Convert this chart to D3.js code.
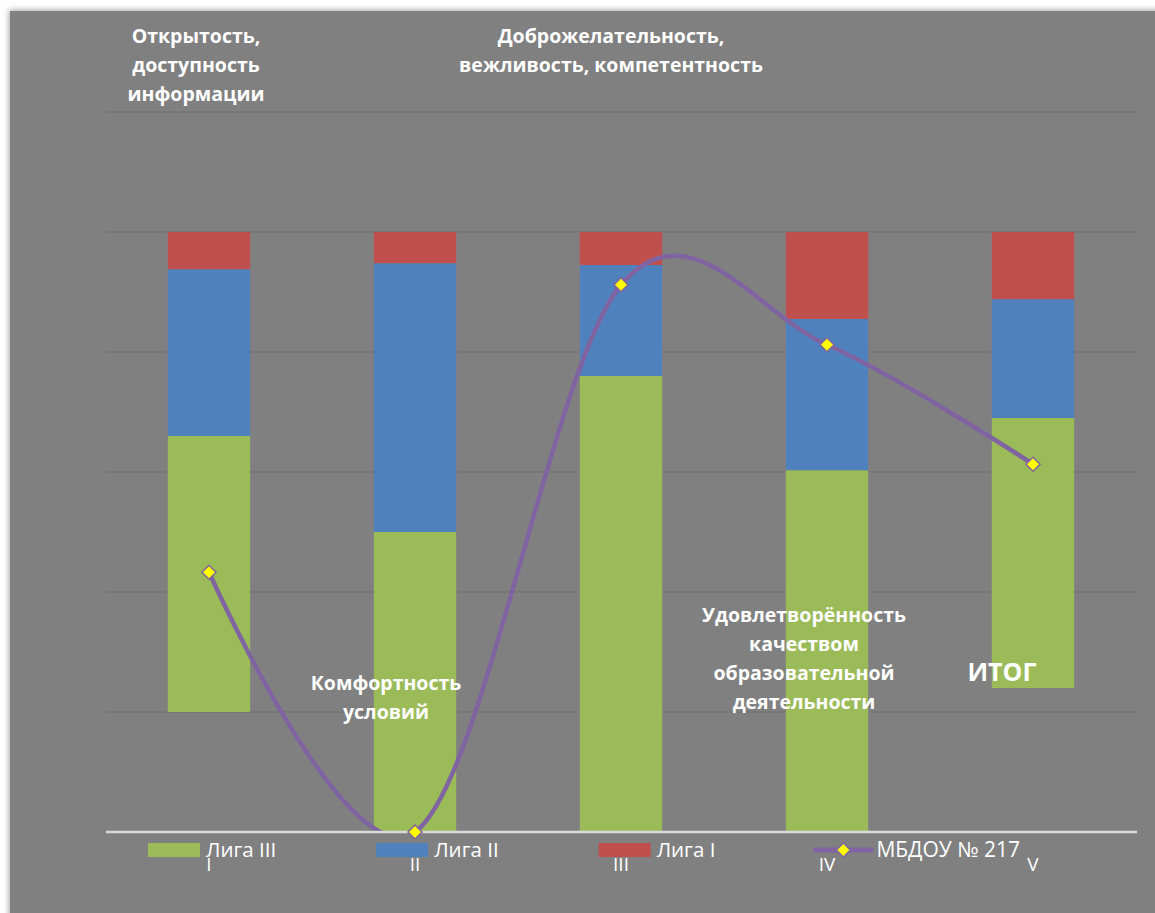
<!DOCTYPE html>
<html>
<head>
<meta charset="utf-8">
<script src="https://cdn.jsdelivr.net/npm/d3@7"></script>
<style>
  html, body { margin: 0; padding: 0; background: #fff; overflow: hidden; }
  svg { display: block; font-family: "Open Sans", "Noto Sans", sans-serif; }
</style>
</head>
<body>
<script>
// chart data
const categories = ["I", "II", "III", "IV", "V"];
const seriesNames = ["Лига III", "Лига II", "Лига I"];
const baseValues = [20, 0, 0, 0, 24]; // invisible offset
const liga3 = [46, 50, 76, 60.3, 45];
const liga2 = [27.8, 44.8, 18.5, 25.2, 19.8];
const liga1 = [6.2, 5.2, 5.5, 14.5, 11.2];
const schoolName = "МБДОУ № 217";
const schoolValues = [43.3, 0, 91.2, 81.2, 61.3];
const yTicks = [0, 20, 40, 60, 80, 100, 120];

const width = 1155;
const height = 913;
const margin = { left: 106, right: 19, top: 112, bottom: 81 };

const colors = { "Лига III": "#9bbb59", "Лига II": "#4f81bd", "Лига I": "#c0504d" };
const lineColor = "#8064a2";

const svg = d3.select("body").append("svg")
  .attr("width", width)
  .attr("height", height);

// drop shadow for the chart panel
const defs = svg.append("defs");
defs.append("filter")
  .attr("id", "shadow")
  .attr("x", "-5%").attr("y", "-5%").attr("width", "110%").attr("height", "110%")
  .append("feDropShadow")
  .attr("dx", -1).attr("dy", -1).attr("stdDeviation", 3)
  .attr("flood-color", "#000").attr("flood-opacity", 0.35);

svg.append("rect")
  .attr("x", 10).attr("y", 11)
  .attr("width", width + 20).attr("height", height + 20)
  .attr("fill", "#808080")
  .attr("filter", "url(#shadow)");

const x = d3.scaleBand()
  .domain(categories)
  .range([margin.left, width - margin.right])
  .paddingInner(0.6)
  .paddingOuter(0.3);

const y = d3.scaleLinear()
  .domain([0, 120])
  .range([height - margin.bottom, margin.top]);

// plot area clip (Excel clips the smoothed line)
defs.append("clipPath")
  .attr("id", "plot")
  .append("rect")
  .attr("x", margin.left).attr("y", margin.top - 10)
  .attr("width", width - margin.left - margin.right)
  .attr("height", y(0) - margin.top + 10);

// gridlines
svg.append("g")
  .selectAll("line")
  .data(yTicks.slice(1))
  .join("line")
  .attr("x1", margin.left).attr("x2", width - margin.right)
  .attr("y1", d => y(d)).attr("y2", d => y(d))
  .attr("stroke", "#747474")
  .attr("stroke-width", 1.5);

// stacked bars
const rows = categories.map((c, i) => ({
  cat: c,
  base: baseValues[i],
  "Лига III": liga3[i],
  "Лига II": liga2[i],
  "Лига I": liga1[i]
}));
const stack = d3.stack().keys(["base", ...seriesNames]);
const stacked = stack(rows);

svg.append("g")
  .selectAll("g")
  .data(stacked.filter(s => s.key !== "base"))
  .join("g")
  .attr("fill", s => colors[s.key])
  .selectAll("rect")
  .data(s => s)
  .join("rect")
  .attr("x", d => x(d.data.cat))
  .attr("width", x.bandwidth())
  .attr("y", d => y(d[1]))
  .attr("height", d => y(d[0]) - y(d[1]));

// smoothed line for the school
const line = d3.line()
  .x((d, i) => x(categories[i]) + x.bandwidth() / 2)
  .y(d => y(d))
  .curve(d3.curveCardinal.tension(0));

svg.append("path")
  .datum(schoolValues)
  .attr("d", line)
  .attr("clip-path", "url(#plot)")
  .attr("fill", "none")
  .attr("stroke", lineColor)
  .attr("stroke-width", 4.5)
  .attr("stroke-linecap", "round");

// x axis line
svg.append("line")
  .attr("x1", margin.left).attr("x2", width - margin.right + 1)
  .attr("y1", y(0)).attr("y2", y(0))
  .attr("stroke", "#d9d9d9")
  .attr("stroke-width", 2.5);

const diamond = d3.symbol().type(d3.symbolDiamond2).size(125);
svg.append("g")
  .selectAll("path")
  .data(schoolValues)
  .join("path")
  .attr("d", diamond)
  .attr("transform", (d, i) => `translate(${x(categories[i]) + x.bandwidth() / 2},${y(d)})`)
  .attr("fill", "#ffff00")
  .attr("stroke", lineColor)
  .attr("stroke-width", 1.5);

// category tick labels
svg.append("g")
  .selectAll("text")
  .data(categories)
  .join("text")
  .attr("x", d => x(d) + x.bandwidth() / 2)
  .attr("y", y(0) + 39)
  .attr("text-anchor", "middle")
  .attr("fill", "#fff")
  .attr("font-size", 19)
  .text(d => d);

// annotations
const annotations = [
  { lines: ["Открытость,", "доступность", "информации"], x: 196, y: 43, size: 19.5 },
  { lines: ["Доброжелательность,", "вежливость, компетентность"], x: 611, y: 43, size: 19.5 },
  { lines: ["Комфортность", "условий"], x: 386, y: 690, size: 19.5 },
  { lines: ["Удовлетворённость", "качеством", "образовательной", "деятельности"], x: 804, y: 622, size: 19.5 },
  { lines: ["ИТОГ"], x: 1002, y: 681, size: 25 }
];

annotations.forEach(a => {
  const t = svg.append("text")
    .attr("x", a.x).attr("y", a.y)
    .attr("text-anchor", "middle")
    .attr("fill", "#fff")
    .attr("font-weight", "bold")
    .attr("font-size", a.size);
  a.lines.forEach((l, i) => {
    t.append("tspan").attr("x", a.x).attr("y", a.y + i * 29).text(l);
  });
});

// legend
const legend = svg.append("g");
let lx = 148;
const ly = 850;
seriesNames.forEach(name => {
  legend.append("rect")
    .attr("x", lx).attr("y", ly - 7)
    .attr("width", 52).attr("height", 14)
    .attr("fill", colors[name]);
  const t = legend.append("text")
    .attr("x", lx + 58).attr("y", ly + 7)
    .attr("fill", "#fff")
    .attr("font-size", 20.5)
    .text(name);
  lx += 58 + t.node().getComputedTextLength() + 100;
});
legend.append("line")
  .attr("x1", lx).attr("x2", lx + 56)
  .attr("y1", ly).attr("y2", ly)
  .attr("stroke", lineColor)
  .attr("stroke-width", 5)
  .attr("stroke-linecap", "round");
legend.append("path")
  .attr("d", diamond)
  .attr("transform", `translate(${lx + 28},${ly})`)
  .attr("fill", "#ffff00")
  .attr("stroke", lineColor)
  .attr("stroke-width", 1.5);
legend.append("text")
  .attr("x", lx + 61).attr("y", ly + 7)
  .attr("fill", "#fff")
  .attr("font-size", 21)
  .text(schoolName);
</script>
</body>
</html>
